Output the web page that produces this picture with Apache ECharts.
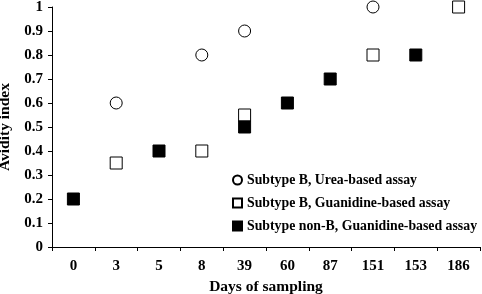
<!DOCTYPE html>
<html>
<head>
<meta charset="utf-8">
<script src="https://cdn.jsdelivr.net/npm/echarts@6/dist/echarts.min.js"></script>
<style>
  html, body { margin: 0; padding: 0; background: #fff; }
  #chart { width: 482px; height: 294px; }
</style>
</head>
<body>
<div id="chart"></div>
<script>
// Days of sampling (category axis)
const days = ["0", "3", "5", "8", "39", "60", "87", "151", "153", "186"];

// Avidity index per series, [day, value]
const ureaB = [["3", 0.6], ["8", 0.8], ["39", 0.9], ["151", 1.0]];
const guanidineB = [["3", 0.35], ["8", 0.4], ["39", 0.55], ["151", 0.8], ["186", 1.0]];
const guanidineNonB = [["0", 0.2], ["5", 0.4], ["39", 0.5], ["60", 0.6], ["87", 0.7], ["153", 0.8]];

const font = "Liberation Serif";
const chart = echarts.init(document.getElementById("chart"));

const option = {
  animation: false,
  textStyle: { fontFamily: font, fontWeight: "bold", color: "#000" },
  grid: { left: 52, right: 2, top: 7, bottom: 47, containLabel: false, outerBoundsMode: "none" },
  legend: {
    orient: "vertical",
    left: 227,
    top: 168,
    itemWidth: 9,
    itemHeight: 9,
    itemGap: 9,
    textStyle: { fontFamily: font, fontWeight: "bold", fontSize: 13.8, color: "#000" },
    data: [
      "Subtype B, Urea-based assay",
      "Subtype B, Guanidine-based assay",
      "Subtype non-B, Guanidine-based assay",
    ],
  },
  xAxis: {
    type: "category",
    data: days,
    boundaryGap: true,
    name: "Days of sampling",
    nameLocation: "middle",
    nameGap: 22,
    nameTextStyle: { fontFamily: font, fontWeight: "bold", fontSize: 15.5, color: "#000" },
    axisLine: { lineStyle: { color: "#000", width: 1 } },
    axisTick: { show: true, length: 4, lineStyle: { color: "#000" } },
    axisLabel: { fontFamily: font, fontWeight: "bold", fontSize: 15, color: "#000", margin: 12 },
    splitLine: { show: false },
  },
  yAxis: {
    type: "value",
    min: 0,
    max: 1,
    interval: 0.1,
    name: "Avidity index",
    nameLocation: "middle",
    nameGap: 36,
    nameTextStyle: { fontFamily: font, fontWeight: "bold", fontSize: 15.5, color: "#000" },
    axisLine: { show: true, lineStyle: { color: "#000", width: 1 } },
    axisTick: { show: true, length: 4, lineStyle: { color: "#000" } },
    axisLabel: {
      fontFamily: font, fontWeight: "bold", fontSize: 15, color: "#000", margin: 9,
      formatter: (v) => String(Math.round(v * 10) / 10),
    },
    splitLine: { show: false },
  },
  series: [
    {
      name: "Subtype B, Urea-based assay",
      type: "scatter",
      symbol: "circle",
      symbolSize: 12,
      itemStyle: { color: "#fff", borderColor: "#000", borderWidth: 1, opacity: 1 },
      data: ureaB,
    },
    {
      name: "Subtype B, Guanidine-based assay",
      type: "scatter",
      symbol: "rect",
      symbolSize: 12,
      itemStyle: { color: "#fff", borderColor: "#000", borderWidth: 1, opacity: 1 },
      data: guanidineB,
    },
    {
      name: "Subtype non-B, Guanidine-based assay",
      type: "scatter",
      symbol: "rect",
      symbolSize: 12,
      itemStyle: { color: "#000", borderColor: "#000", borderWidth: 1, opacity: 1 },
      data: guanidineNonB,
    },
  ],
};

chart.setOption(option);
</script>
</body>
</html>
